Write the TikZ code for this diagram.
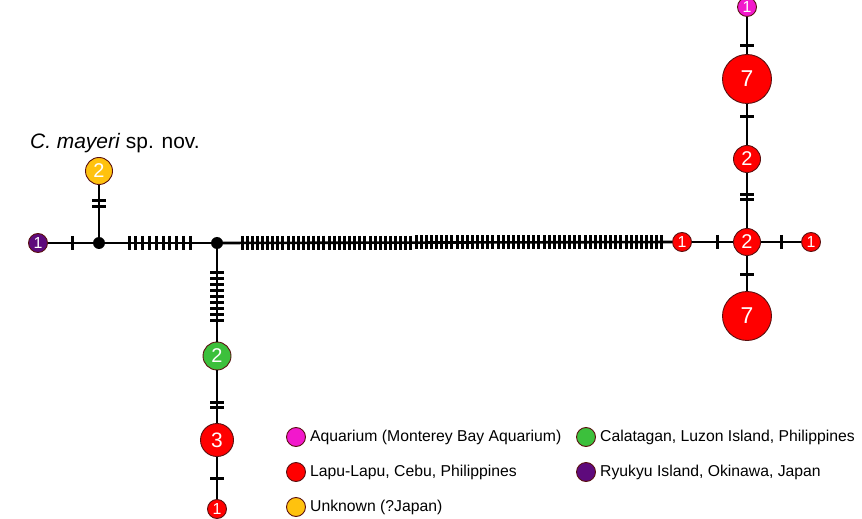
\documentclass[tikz,border=0pt]{standalone}
\usepackage{fontspec}
\setmainfont{Liberation Sans}
\definecolor{hapred}{HTML}{FF0000}
\definecolor{hapgreen}{HTML}{3CC03C}
\definecolor{hapyellow}{HTML}{FFC20E}
\definecolor{happurple}{HTML}{5E0A7C}
\definecolor{hapmagenta}{HTML}{F218CC}
\definecolor{rimdark}{HTML}{5A1010}
\begin{document}
\begin{tikzpicture}[x=1bp,y=-1bp,
  hap/.style={circle,draw=rimdark,line width=0.9pt,text=white,inner sep=0pt},
  fs/.style={font=\fontsize{#1}{#1}\selectfont},
  junction/.style={circle,fill=black,inner sep=0pt,minimum size=12bp},
  edge/.style={line width=2.6bp,black},
  tk/.style={line width=3bp,black},
  key/.style={circle,draw=rimdark,line width=0.9pt,inner sep=0pt,minimum size=19bp},
  keytext/.style={anchor=west,fs=15.8,inner sep=0pt}]
\useasboundingbox (0,0) rectangle (862,519);

% haplotype circles
\node[hap,fill=happurple,minimum size=19bp,fs=16] (p1) at (38,243) {1};
\node[junction] (ja) at (99,243) {};
\node[hap,fill=hapyellow,minimum size=27bp,fs=20] (y2) at (99,171) {2};
\node[junction] (jb) at (217,243) {};
\node[hap,fill=hapgreen,minimum size=28bp,fs=20] (g2) at (217,356) {2};
\node[hap,fill=hapred,minimum size=33bp,fs=21] (r3) at (217,440) {3};
\node[hap,fill=hapred,minimum size=19bp,fs=16] (r1b) at (217,509) {1};
\node[hap,fill=hapred,minimum size=19bp,fs=16] (r1m) at (682,242) {1};
\node[hap,fill=hapred,minimum size=27bp,fs=20] (r2c) at (747,242) {2};
\node[hap,fill=hapred,minimum size=19bp,fs=16] (r1r) at (811,242) {1};
\node[hap,fill=hapred,minimum size=49bp,fs=23] (r7b) at (747,316) {7};
\node[hap,fill=hapred,minimum size=27bp,fs=20] (r2u) at (747,159) {2};
\node[hap,fill=hapred,minimum size=49bp,fs=23] (r7t) at (747,79) {7};
\node[hap,fill=hapmagenta,minimum size=19bp,fs=16] (m1) at (747,7) {1};

% connectors
\draw[edge] (p1) -- (ja);
\draw[edge] (ja) -- (y2);
\draw[edge] (ja) -- (jb);
\draw[edge] (jb) -- (r1m);
\draw[edge] (jb) -- (g2);
\draw[edge] (g2) -- (r3);
\draw[edge] (r3) -- (r1b);
\draw[edge] (r1m) -- (r2c);
\draw[edge] (r2c) -- (r1r);
\draw[edge] (r2c) -- (r7b);
\draw[edge] (r2c) -- (r2u);
\draw[edge] (r2u) -- (r7t);
\draw[edge] (r7t) -- (m1);

% mutation ticks on horizontal branches
\draw[tk] (72,236) -- (72,250);
\foreach \i in {0,...,9} {
  \draw[tk] ({129+\i*6.8},236) -- ({129+\i*6.8},250);
}
\foreach \i in {0,...,82} {
  \draw[tk] ({242+\i*5.12},{235.9-0.012*\i}) -- ({242+\i*5.12},{249.9-0.012*\i});
}
\draw[tk] (717,235) -- (717,249);
\draw[tk] (781,235) -- (781,249);

% mutation ticks on vertical branches
\foreach \yy in {201,207} \draw[tk] (92,\yy) -- (106,\yy);
\foreach \i in {0,...,8} {
  \draw[tk] (210,{273+\i*5.9}) -- (224,{273+\i*5.9});
}
\foreach \yy in {402,407} \draw[tk] (210,\yy) -- (224,\yy);
\draw[tk] (210,478) -- (224,478);
\foreach \yy in {195,200} \draw[tk] (740,\yy) -- (754,\yy);
\draw[tk] (740,275) -- (754,275);
\draw[tk] (740,117) -- (754,117);
\draw[tk] (740,46) -- (754,46);

% species label
\node[anchor=base west,inner sep=0pt,fs=21] (lab) at (30,149) {\textit{C. mayeri} sp. nov.};

% legend
\node[key,fill=hapmagenta] (k1) at (296,437) {};
\node[keytext] (t1) at (310,437) {Aquarium (Monterey Bay Aquarium)};
\node[key,fill=hapgreen] (k2) at (586,437) {};
\node[keytext] (t2) at (600,437) {Calatagan, Luzon Island, Philippines};
\node[key,fill=hapred] (k3) at (296,472) {};
\node[keytext] (t3) at (310,472) {Lapu-Lapu, Cebu, Philippines};
\node[key,fill=happurple] (k4) at (586,472) {};
\node[keytext] (t4) at (600,472) {Ryukyu Island, Okinawa, Japan};
\node[key,fill=hapyellow] (k5) at (296,507) {};
\node[keytext] (t5) at (310,507) {Unknown (?Japan)};
\end{tikzpicture}
\end{document}
